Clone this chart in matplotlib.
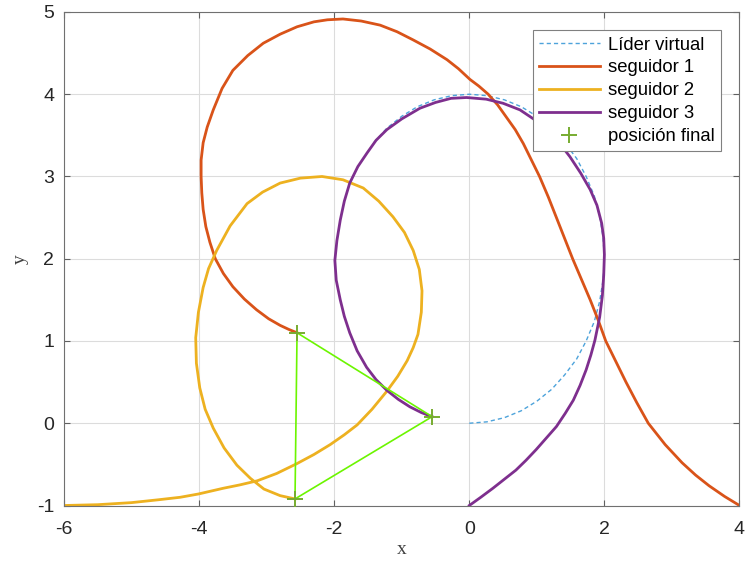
import matplotlib
matplotlib.use("Agg")
import matplotlib.pyplot as plt

# trayectorias
lider_x = [0.00, 0.26, 0.52, 0.77, 1.00, 1.22, 1.41, 1.59, 1.73, 1.85, 1.93, 1.98, 2.00,
           1.98, 1.93, 1.85, 1.73, 1.59, 1.41, 1.22, 1.00, 0.77, 0.52, 0.26, 0.00,
           -0.26, -0.52, -0.77, -1.00, -1.22, -1.41]
lider_y = [0.00, 0.017, 0.068, 0.152, 0.268, 0.413, 0.586, 0.782, 1.00, 1.235, 1.482, 1.739, 2.00,
           2.261, 2.518, 2.765, 3.00, 3.218, 3.414, 3.587, 3.732, 3.848, 3.932, 3.983, 4.00,
           3.983, 3.932, 3.848, 3.732, 3.587, 3.414]

seg1_x = [4.00, 3.78, 3.55, 3.35, 3.15, 2.90, 2.65, 2.48, 2.32, 2.17, 2.02, 1.91, 1.79, 1.66,
          1.53, 1.41, 1.29, 1.17, 1.04, 0.92, 0.80, 0.68, 0.55, 0.42, 0.28, 0.14, 0.01,
          -0.16, -0.33, -0.58, -0.83, -1.07, -1.32, -1.60, -1.87, -2.10, -2.30, -2.55,
          -2.80, -3.05, -3.28, -3.50, -3.66, -3.79, -3.88, -3.94, -3.97, -3.97, -3.96,
          -3.94, -3.90, -3.84, -3.76, -3.64, -3.50, -3.33, -3.15, -2.97, -2.80, -2.67, -2.55]
seg1_y = [-1.00, -0.89, -0.76, -0.63, -0.48, -0.26, 0.00, 0.25, 0.50, 0.75, 1.00, 1.25, 1.50, 1.75,
          2.00, 2.25, 2.50, 2.75, 3.00, 3.20, 3.40, 3.57, 3.72, 3.87, 4.00, 4.10, 4.18,
          4.31, 4.42, 4.55, 4.66, 4.76, 4.84, 4.89, 4.915, 4.905, 4.88, 4.82,
          4.73, 4.62, 4.47, 4.29, 4.07, 3.81, 3.60, 3.41, 3.20, 3.00, 2.80,
          2.60, 2.39, 2.20, 2.00, 1.82, 1.66, 1.51, 1.38, 1.27, 1.19, 1.14, 1.10]

seg2_x = [-6.00, -5.50, -5.00, -4.60, -4.28, -4.01, -3.64, -3.40, -3.14, -2.85, -2.55, -2.30,
          -2.06, -1.85, -1.66, -1.44, -1.22, -1.06, -0.92, -0.83, -0.76, -0.71, -0.70, -0.74,
          -0.83, -0.96, -1.13, -1.34, -1.57, -1.87, -2.18, -2.50, -2.80, -3.06, -3.29, -3.54,
          -3.74, -3.86, -3.94, -4.01, -4.05, -4.04, -3.99, -3.91, -3.79, -3.63, -3.44, -3.24,
          -3.04, -2.80, -2.58]
seg2_y = [-1.00, -0.99, -0.965, -0.93, -0.90, -0.86, -0.79, -0.75, -0.70, -0.61, -0.49, -0.38,
          -0.26, -0.14, -0.02, 0.17, 0.39, 0.57, 0.76, 0.92, 1.08, 1.35, 1.61, 1.87,
          2.10, 2.32, 2.51, 2.70, 2.86, 2.96, 3.00, 2.98, 2.92, 2.81, 2.67, 2.40,
          2.10, 1.88, 1.65, 1.35, 1.04, 0.73, 0.43, 0.17, -0.06, -0.30, -0.51, -0.67,
          -0.80, -0.88, -0.92]

seg3_x = [0.00, 0.17, 0.35, 0.52, 0.69, 0.84, 0.99, 1.14, 1.29, 1.42, 1.54, 1.64, 1.73, 1.80,
          1.86, 1.93, 1.97, 1.99, 2.00, 1.99, 1.96, 1.89, 1.79, 1.65, 1.49, 1.33, 1.15, 0.95,
          0.75, 0.50, 0.25, -0.04, -0.27, -0.50, -0.73, -1.00, -1.22, -1.38, -1.51, -1.65,
          -1.77, -1.85, -1.91, -1.96, -1.99, -1.97, -1.91, -1.85, -1.77, -1.66, -1.52, -1.38,
          -1.22, -1.05, -0.88, -0.71, -0.55]
seg3_y = [-1.00, -0.90, -0.79, -0.68, -0.57, -0.45, -0.32, -0.18, -0.04, 0.12, 0.28, 0.46, 0.65, 0.83,
          1.01, 1.29, 1.55, 1.80, 2.05, 2.25, 2.43, 2.65, 2.84, 3.04, 3.24, 3.41, 3.57, 3.70,
          3.81, 3.89, 3.94, 3.96, 3.95, 3.90, 3.83, 3.70, 3.57, 3.44, 3.29, 3.12,
          2.92, 2.70, 2.47, 2.22, 1.98, 1.74, 1.50, 1.30, 1.10, 0.88, 0.68, 0.53,
          0.40, 0.29, 0.20, 0.13, 0.08]

final_x = [-2.55, -0.55, -2.58]
final_y = [1.10, 0.08, -0.92]

xticks = [-6, -4, -2, 0, 2, 4]
yticks = [-1, 0, 1, 2, 3, 4, 5]

plt.rcParams["font.family"] = ["Liberation Sans", "DejaVu Sans"]
plt.rcParams["axes.unicode_minus"] = False

fig = plt.figure(figsize=(7.45, 5.65), dpi=100)
ax = fig.add_axes([0.0859, 0.1053, 0.9067, 0.8735])

ax.plot(lider_x, lider_y, "--", color="#4DA3DB", lw=1.0, dashes=(3, 2.2), label="Líder virtual")
ax.plot(seg1_x, seg1_y, color="#D95319", lw=2.0, label="seguidor 1")
ax.plot(seg2_x, seg2_y, color="#EDB120", lw=2.0, label="seguidor 2")
ax.plot(seg3_x, seg3_y, color="#7E2F8E", lw=2.0, label="seguidor 3")
ax.plot(final_x + final_x[:1], final_y + final_y[:1], color="#6CF500", lw=1.2, zorder=4)
ax.plot(final_x, final_y, "+", color="#77AC30", ms=12, mew=1.4, ls="none", zorder=5,
        label="posición final")

ax.set_xlim(-6, 4)
ax.set_ylim(-1, 5)
ax.set_xticks(xticks)
ax.set_yticks(yticks)
ax.grid(True, color="#DCDCDC", lw=0.8)
ax.set_axisbelow(True)
ax.tick_params(direction="in", top=True, right=True, length=4.5, width=0.8,
               color="#606060", labelcolor="#262626", labelsize=14)
ax.tick_params(axis="x", pad=11)
ax.tick_params(axis="y", pad=7)
for s in ax.spines.values():
    s.set_color("#707070")
    s.set_linewidth(0.8)

ax.set_xlabel("x", family="Liberation Serif", fontsize=14, color="#404040", labelpad=2)
ax.set_ylabel("y", family="Liberation Serif", fontsize=14, color="#404040", labelpad=6)

leg = ax.legend(loc="upper right", fontsize=13.3, frameon=True, fancybox=False,
                edgecolor="#808080", framealpha=1, handlelength=3.3, handletextpad=0.45,
                labelspacing=0.32, borderpad=0.33, borderaxespad=1.0)
leg.get_frame().set_linewidth(0.8)

fig.savefig("out.png", dpi=100)
